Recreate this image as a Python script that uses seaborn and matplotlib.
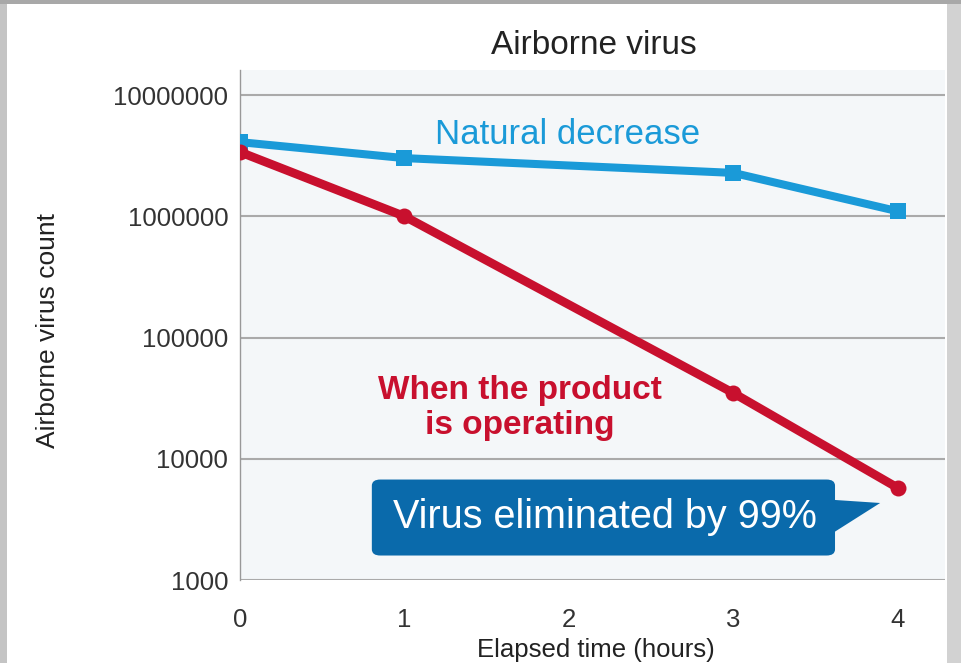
import matplotlib
matplotlib.use("Agg")
import matplotlib.pyplot as plt
import seaborn as sns
import pandas as pd
from matplotlib.patches import FancyBboxPatch, Polygon, Rectangle

hours = [0, 1, 3, 4]
natural = [4.09e6, 3.02e6, 2.28e6, 1.10e6]
product = [3.39e6, 1.0e6, 3.48e4, 5.74e3]
yticks = [1000, 10000, 100000, 1000000, 10000000]
ytick_labels = ["1000", "10000", "100000", "1000000", "10000000"]
xticks = [0, 1, 2, 3, 4]

sns.set_theme(style="white")
plt.rcParams['font.family'] = ['Liberation Sans', 'DejaVu Sans']

df = pd.DataFrame({
    "hours": hours * 2,
    "count": natural + product,
    "series": ["Natural decrease"] * len(hours) + ["When the product is operating"] * len(hours),
})

blue = "#1a9ad8"
red = "#c8102e"

fig = plt.figure(figsize=(9.61, 6.63), dpi=100)
fig.patch.set_facecolor("white")
ax = fig.add_axes([240/961, 83/663, 705/961, 510/663])
ax.set_facecolor("#f4f7f9")

sub_n = df[df.series == "Natural decrease"]
sub_p = df[df.series != "Natural decrease"]
sns.lineplot(data=sub_n, x="hours", y="count", ax=ax, color=blue, lw=5.8,
             marker="s", markersize=12, markeredgewidth=0, zorder=4, legend=False)
sns.lineplot(data=sub_p, x="hours", y="count", ax=ax, color=red, lw=6.3,
             marker="o", markersize=11.5, markeredgewidth=0, zorder=5, legend=False)

ax.set_yscale("log")
ax.set_ylim(1000, 1.61e7)
ax.set_xlim(0, 4.286)
ax.set_yticks(yticks)
ax.set_yticklabels(ytick_labels)
ax.minorticks_off()
ax.set_xticks(xticks)
ax.set_xticklabels([str(x) for x in xticks])
ax.tick_params(axis="y", length=0, pad=8.5, labelsize=18.5, labelcolor="#333333")
ax.tick_params(axis="x", length=0, pad=20, labelsize=18.5, labelcolor="#333333")
ax.set_xlabel("")
ax.set_ylabel("")
for y in yticks:
    ax.axhline(y, color="#aaaaaa", lw=1.5, zorder=1)
for s in ["top", "right", "bottom"]:
    ax.spines[s].set_visible(False)
ax.spines["left"].set_color("#999999")
ax.spines["left"].set_linewidth(1.0)
ax.spines["left"].set_zorder(3)

ax.text(0.464, 0.874, "Natural decrease", transform=ax.transAxes, ha="center",
        va="center", color=blue, fontsize=25)
ax.text(0.397, 0.337, "When the product\nis operating", transform=ax.transAxes,
        ha="center", va="center", color=red, fontsize=24, fontweight="bold",
        linespacing=1.15)

box_color = "#0a6aab"
box = FancyBboxPatch((0.187, 0.048), 0.657, 0.149, transform=ax.transAxes,
                     boxstyle="round,pad=0,rounding_size=0.012",
                     facecolor=box_color, edgecolor="none", zorder=6)
ax.add_patch(box)
tri = Polygon([(0.843, 0.157), (0.908, 0.151), (0.843, 0.094)], closed=True,
              transform=ax.transAxes, facecolor=box_color, edgecolor="none", zorder=6)
ax.add_patch(tri)
ax.text(0.518, 0.123, "Virus eliminated by 99%", transform=ax.transAxes,
        ha="center", va="center", color="white", fontsize=28.5, zorder=7)

fig.text(594/961, (663-45)/663, "Airborne virus", ha="center", va="center",
         fontsize=24, color="#222222")
fig.text(48/961, (663-331)/663, "Airborne virus count", ha="center", va="center",
         rotation=90, fontsize=19, color="#222222")
fig.text(596/961, (663-650)/663, "Elapsed time (hours)", ha="center", va="center",
         fontsize=18.5, color="#222222")

# screenshot frame
fig.patches.append(Rectangle((0, 0), 7/961, 1, transform=fig.transFigure,
                             facecolor="#c4c4c4", edgecolor="none", zorder=10))
fig.patches.append(Rectangle((1 - 14/961, 0), 14/961, 1, transform=fig.transFigure,
                             facecolor="#d2d2d2", edgecolor="none", zorder=10))
fig.patches.append(Rectangle((0, 1 - 4/663), 1, 4/663, transform=fig.transFigure,
                             facecolor="#a8a8a8", edgecolor="none", zorder=10))

fig.savefig("out.png", dpi=100)
